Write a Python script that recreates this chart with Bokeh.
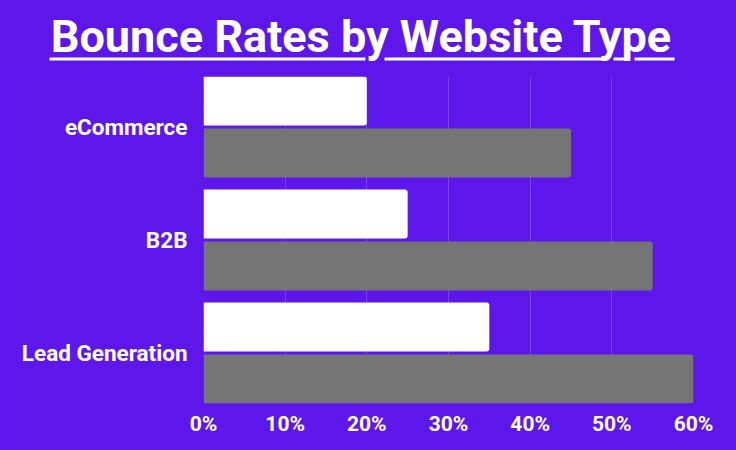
from bokeh.plotting import figure
from bokeh.layouts import column, row
from bokeh.models import Range1d, FixedTicker, BoxAnnotation, ColumnDataSource
from bokeh.core.properties import value
from bokeh.embed import file_html
from bokeh.resources import INLINE

# ---- data ----
title_text = "Bounce Rates by Website Type"
categories = ["eCommerce", "B2B", "Lead Generation"]
low_values = [20, 25, 35]     # white bars (%)
high_values = [45, 55, 60]    # gray bars (%)
x_ticks = [0, 10, 20, 30, 40, 50, 60]
x_tick_labels = ["0%", "10%", "20%", "30%", "40%", "50%", "60%"]

BG = "#5E17EB"
GRAY = "#757575"
FONT = "Roboto"
W, H = 736, 450
TITLE_H = 76

# ---- title figure (pixel coordinates, y downward) ----
t = figure(width=W, height=TITLE_H, output_backend="svg", toolbar_location=None,
           x_range=Range1d(0, W), y_range=Range1d(TITLE_H, 0),
           x_axis_type=None, y_axis_type=None,
           min_border_left=0, min_border_right=0, min_border_top=0, min_border_bottom=0)
t.background_fill_color = BG
t.border_fill_color = BG
t.outline_line_color = None
t.grid.visible = False
t.text(x=[361], y=[35.5], text=[title_text], text_align="center", text_baseline="alphabetic",
       text_color="white", text_font=value(FONT), text_font_style="bold", text_font_size="45px")
for l, r in [(49, 365), (384, 602), (613, 625), (634, 674)]:
    t.add_layout(BoxAnnotation(left=l, right=r, top=57, bottom=60,
                               fill_color="white", fill_alpha=1.0, line_color=None))

# ---- chart figure ----
idx = list(range(len(categories)))
off = 26 / 113
bar_h = 49 / 113
src_low = ColumnDataSource(dict(y=[i - off for i in idx], v=low_values))
src_high = ColumnDataSource(dict(y=[i + off for i in idx], v=high_values))

p = figure(width=W, height=H - TITLE_H, output_backend="svg", toolbar_location=None,
           x_range=Range1d(0, 60), y_range=Range1d(len(categories) - 1 + 0.447, -0.447),
           min_border_left=203, min_border_right=43, min_border_top=0, min_border_bottom=47)
p.background_fill_color = BG
p.border_fill_color = BG
p.outline_line_color = None

p.hbar(y="y", right="v", left=0, height=bar_h, source=src_low,
       fill_color="white", line_color=None, border_radius=(0, 3, 3, 0))
p.hbar(y="y", right="v", left=0, height=bar_h, source=src_high,
       fill_color=GRAY, line_color=None, border_radius=(0, 3, 3, 0))

xa = p.xaxis[0]
xa.ticker = FixedTicker(ticks=x_ticks)
xa.major_label_overrides = {tk: lb for tk, lb in zip(x_ticks, x_tick_labels)}
ya = p.yaxis[0]
ya.ticker = FixedTicker(ticks=idx)
ya.major_label_overrides = {i: c for i, c in zip(idx, categories)}
for ax in (xa, ya):
    ax.axis_line_color = None
    ax.major_tick_line_color = None
    ax.minor_tick_line_color = None
    ax.major_tick_out = 0
    ax.major_tick_in = 0
    ax.major_label_text_color = "white"
    ax.major_label_text_font = FONT
    ax.major_label_text_font_style = "bold"
    ax.major_label_text_font_size = "21px"
ya.major_label_text_font_size = "22.5px"
xa.major_label_standoff = 8
ya.major_label_standoff = 16

p.xgrid.grid_line_color = "white"
p.xgrid.grid_line_alpha = 0.18
p.ygrid.grid_line_color = None

layout = column(row(t), p, spacing=0)
layout.styles = {"background-color": BG}

open("out.html", "w").write(file_html(layout, INLINE))
